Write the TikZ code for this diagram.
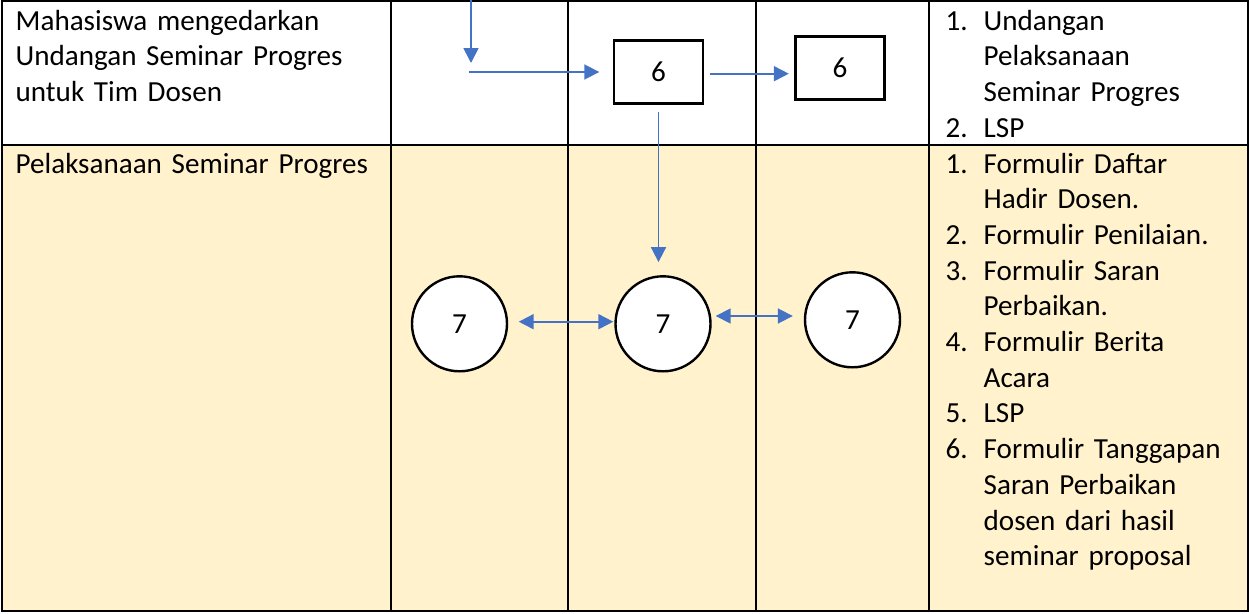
\documentclass[tikz,border=0pt]{standalone}
\usepackage{fontspec}
\setmainfont{Carlito}
\usetikzlibrary{arrows.meta}
\definecolor{arrblue}{HTML}{4472C4}
\definecolor{rowyel}{HTML}{FFF2CC}
\newcommand\itemnum[1]{\makebox[38pt][l]{#1}}
\newcommand\itemind{\hspace*{38pt}}
\begin{document}
\begin{tikzpicture}[x=1pt,y=-1pt,
  tbl/.style={line width=2.4pt,draw=black},
  txt/.style={anchor=base west,inner sep=0pt,align=left,font=\fontsize{29.1}{35.7}\selectfont},
  stepbox/.style={draw,line width=2.4pt,fill=white,minimum width=89pt,minimum height=63pt,inner sep=0pt,font=\fontsize{29.1}{35.7}\selectfont},
  circ/.style={draw,circle,line width=2.4pt,fill=white,minimum size=95pt,inner sep=0pt,font=\fontsize{29.1}{35.7}\selectfont},
  arr/.style={draw=arrblue,line width=1.8pt,-{Triangle[length=15pt,width=15pt]},arrblue},
  darr/.style={draw=arrblue,line width=1.8pt,{Triangle[length=15pt,width=15pt]}-{Triangle[length=15pt,width=15pt]},arrblue}]
\useasboundingbox (0,0) rectangle (1249,613);
% table
\fill[rowyel] (2,145) rectangle (1248,611);
\draw[tbl] (2,1) rectangle (1248,611);
\draw[tbl] (2,145) -- (1248,145);
\foreach \xx in {391,568,756,929} \draw[tbl] (\xx,1) -- (\xx,611);
% texts
\node[txt,text width=370pt] (t1) at (15.5,30) {Mahasiswa mengedarkan\\Undangan Seminar Progres\\untuk Tim Dosen};
\node[txt,text width=370pt] (t2) at (15.5,173) {Pelaksanaan Seminar Progres};
\node[txt,text width=300pt] (d1) at (945.5,30) {\itemnum{1.}Undangan\\\itemind Pelaksanaan\\\itemind Seminar Progres\\\itemnum{2.}LSP};
\node[txt,text width=300pt] (d2) at (945.5,173) {\itemnum{1.}Formulir Daftar\\\itemind Hadir Dosen.\\\itemnum{2.}Formulir Penilaian.\\\itemnum{3.}Formulir Saran\\\itemind Perbaikan.\\\itemnum{4.}Formulir Berita\\\itemind Acara\\\itemnum{5.}LSP\\\itemnum{6.}Formulir Tanggapan\\\itemind Saran Perbaikan\\\itemind dosen dari hasil\\\itemind seminar proposal};
% shapes
\node[stepbox] (b1) at (658.5,72) {6};
\node[stepbox] (b2) at (840,68) {6};
\node[circ] (c1) at (459.5,323.8) {7};
\node[circ] (c2) at (663,323.8) {7};
\node[circ] (c3) at (852.5,319.8) {7};
% connectors
\coordinate (in0) at (471,0);
\coordinate (in1) at (471,63);
\coordinate (h0) at (469,72);
\draw[arr] (in0) -- (in1);
\draw[arr,shorten >=13.5pt] (h0) -- (b1.west |- h0);
\draw[arr,shorten <=5.5pt,shorten >=5.5pt] (b1.east |- 0,73.7) -- (b2.west |- 0,73.7);
\draw[arr,shorten <=7pt,shorten >=13pt] (b1.south) -- (b1.south |- c2.north);
\draw[darr,shorten <=10.5pt,shorten >=1pt] (c1.east |- 0,321.7) -- (c2.west |- 0,321.7);
\draw[darr,shorten <=4pt,shorten >=11pt] (c2.east |- 0,316) -- (c3.west |- 0,316);
\end{tikzpicture}
\end{document}
